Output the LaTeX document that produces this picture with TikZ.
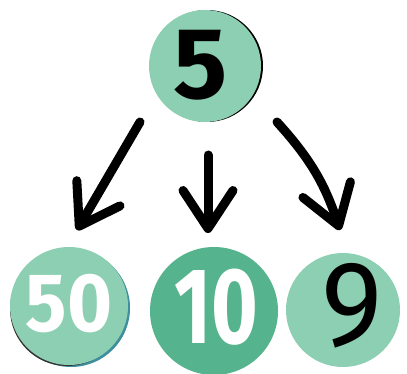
\documentclass[tikz,border=0pt]{standalone}
\usepackage{fontspec}
\setmainfont{Fira Sans}
\usetikzlibrary{arrows.meta}
\definecolor{lightteal}{HTML}{8CCFB2}
\definecolor{midteal}{HTML}{55B38D}
\definecolor{shadowteal}{HTML}{3E8E9E}
\tikzset{
  ball/.style={circle, inner sep=0pt},
  digits/.style={inner sep=0pt, font=\bfseries},
  arrowline/.style={line width=9pt, line cap=round, line join=round,
    -{Straight Barb[length=38pt, width=50pt, line width=9pt, round]}},
}
\begin{document}
\begin{tikzpicture}[x=1pt, y=-1pt]
\useasboundingbox (0,0) rectangle (407,374);
% shadows
\fill[black] (207,66) circle (56);
\fill[shadowteal] (71,308) circle (59);
\fill[black!80] (67,309) circle (57);
% circles
\node[ball, fill=lightteal, minimum size=112pt] (top) at (205,66) {};
\node[ball, fill=lightteal, minimum size=118pt] (left) at (69,306) {};
\node[ball, fill=midteal, minimum size=128pt] (mid) at (214,311) {};
\node[ball, fill=lightteal, minimum size=114pt] (right) at (343,310) {};
% numbers
\node[digits, text=black] (ttop) at (201,65)
  {\fontsize{101}{101}\selectfont 5};
\node[digits, text=white] (tleft) at (69,304)
  {\scalebox{0.93}[1]{\fontsize{83}{83}\selectfont 50}};
\node[digits, text=white] (tmid) at (216,307)
  {\scalebox{0.74}[1]{\fontsize{108}{108}\selectfont 10}};
\node[inner sep=0pt, text=black] (tright) at (352,306)
  {\scalebox{1.08}[1.12]{\fontsize{108}{108}\selectfont 9}};
% arrow end points
\coordinate (ls) at (140,122);
\coordinate (le) at (77,230);
\coordinate (ms) at (208,155);
\coordinate (me) at (208,233);
\coordinate (rs) at (277,122);
\coordinate (re) at (340,230);
\draw[arrowline] (ls) -- (le);
\draw[arrowline] (ms) -- (me);
\draw[arrowline] (rs) to[bend left=12] (re);
\end{tikzpicture}
\end{document}
